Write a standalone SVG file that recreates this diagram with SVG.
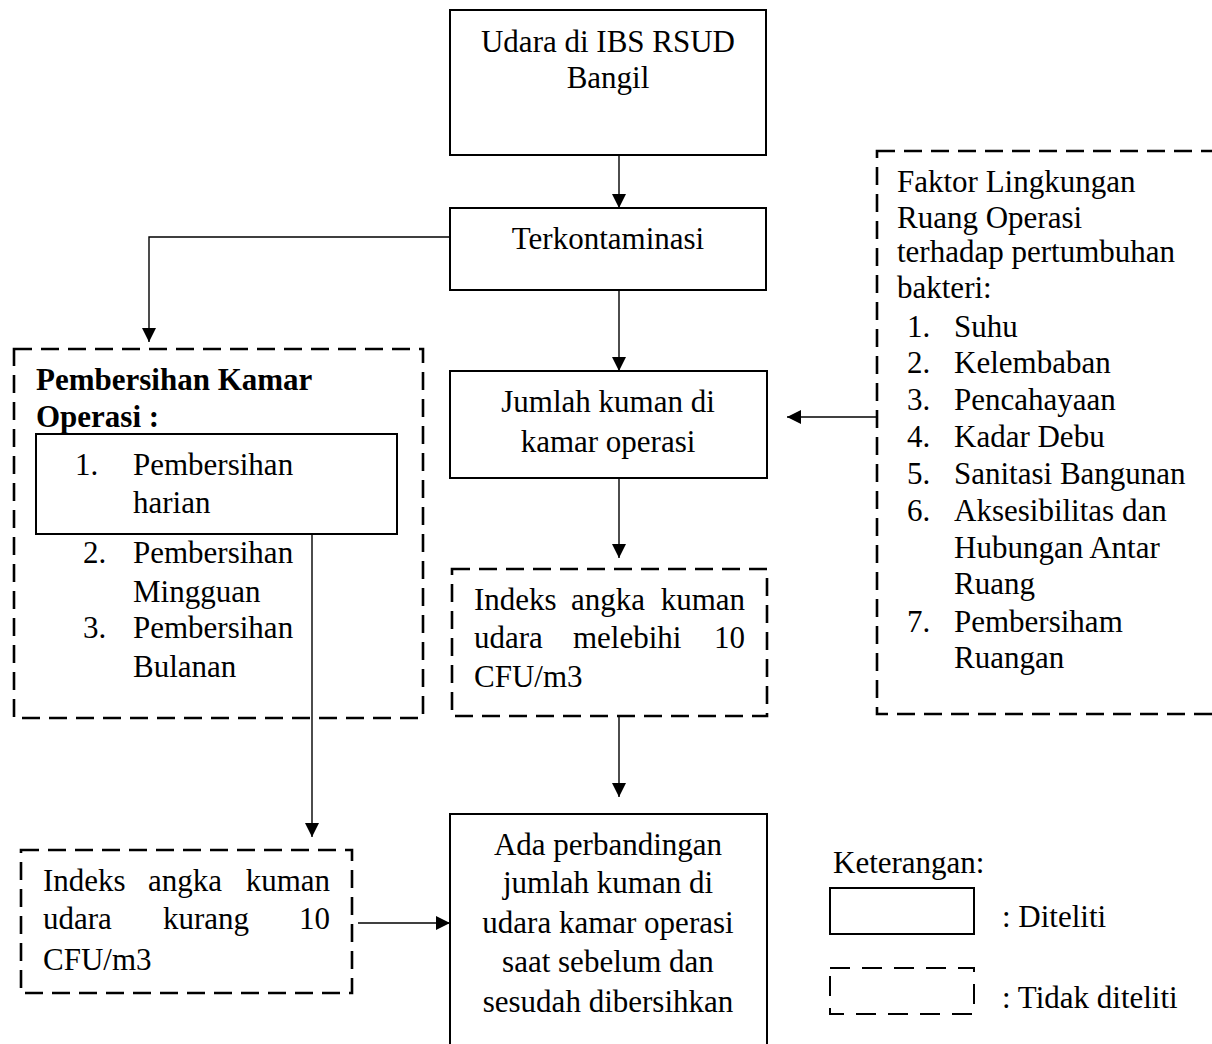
<svg xmlns="http://www.w3.org/2000/svg" width="1212" height="1044" viewBox="0 0 1212 1044">
<style>
text{font-family:"Liberation Serif","Times New Roman",serif;font-size:31px;fill:#000}
.b{font-weight:bold}
.c{text-anchor:middle}
.e{text-anchor:end}
.solid{fill:#fff;stroke:#000;stroke-width:2}
.dash{fill:none;stroke:#000;stroke-width:2.6;stroke-dasharray:18 9}
.conn path{fill:none;stroke:#000;stroke-width:1.4;marker-end:url(#ah)}
</style>
<defs>
<marker id="ah" markerWidth="14" markerHeight="14" refX="14" refY="7" orient="auto" markerUnits="userSpaceOnUse"><path d="M0,0 L14,7 L0,14 z" fill="#000"/></marker>
</defs>
<rect width="1212" height="1044" fill="#fff"/>

<g id="udara">
<rect class="solid" x="450" y="10" width="316" height="145"/>
<text class="c" x="608" y="52">Udara di IBS RSUD</text>
<text class="c" x="608" y="88">Bangil</text>
</g>

<g id="terkontaminasi">
<rect class="solid" x="450" y="208" width="316" height="82"/>
<text class="c" x="608" y="249">Terkontaminasi</text>
</g>

<g id="jumlah">
<rect class="solid" x="450" y="371" width="317" height="107"/>
<text class="c" x="608" y="412">Jumlah kuman di</text>
<text class="c" x="608" y="452">kamar operasi</text>
</g>

<g id="indeks-lebih">
<rect class="dash" x="452" y="569" width="315" height="147"/>
<text x="474" y="610">Indeks</text><text x="571" y="610">angka</text><text class="e" x="745" y="610">kuman</text>
<text x="474" y="648">udara</text><text x="573" y="648">melebihi</text><text class="e" x="745" y="648">10</text>
<text x="474" y="687">CFU/m3</text>
</g>

<g id="perbandingan">
<rect class="solid" x="450" y="814" width="317" height="240"/>
<text class="c" x="608" y="855">Ada perbandingan</text>
<text class="c" x="608" y="893">jumlah kuman di</text>
<text class="c" x="608" y="933">udara kamar operasi</text>
<text class="c" x="608" y="972">saat sebelum dan</text>
<text class="c" x="608" y="1012">sesudah dibersihkan</text>
</g>

<g id="pembersihan">
<rect class="dash" x="14" y="349" width="409" height="369"/>
<text class="b" x="36" y="390">Pembersihan Kamar</text>
<text class="b" x="36" y="427">Operasi :</text>
<g id="harian">
<rect class="solid" x="36" y="434" width="361" height="100"/>
<text x="75" y="475">1.</text><text x="133" y="475">Pembersihan</text>
<text x="133" y="513">harian</text>
</g>
<text x="83" y="563">2.</text><text x="133" y="563">Pembersihan</text>
<text x="133" y="602">Mingguan</text>
<text x="83" y="638">3.</text><text x="133" y="638">Pembersihan</text>
<text x="133" y="677">Bulanan</text>
</g>

<g id="indeks-kurang">
<rect class="dash" x="21" y="850" width="331" height="143"/>
<text x="43" y="891">Indeks</text><text x="148" y="891">angka</text><text class="e" x="330" y="891">kuman</text>
<text x="43" y="929">udara</text><text x="163" y="929">kurang</text><text class="e" x="330" y="929">10</text>
<text x="43" y="970">CFU/m3</text>
</g>

<g id="faktor">
<rect class="dash" x="877" y="151" width="345" height="563"/>
<text x="897" y="192">Faktor Lingkungan</text>
<text x="897" y="228">Ruang Operasi</text>
<text x="897" y="262">terhadap pertumbuhan</text>
<text x="897" y="298">bakteri:</text>
<text x="907" y="337">1.</text><text x="954" y="337">Suhu</text>
<text x="907" y="373">2.</text><text x="954" y="373">Kelembaban</text>
<text x="907" y="410">3.</text><text x="954" y="410">Pencahayaan</text>
<text x="907" y="447">4.</text><text x="954" y="447">Kadar Debu</text>
<text x="907" y="484">5.</text><text x="954" y="484">Sanitasi Bangunan</text>
<text x="907" y="521">6.</text><text x="954" y="521">Aksesibilitas dan</text>
<text x="954" y="558">Hubungan Antar</text>
<text x="954" y="594">Ruang</text>
<text x="907" y="632">7.</text><text x="954" y="632">Pembersiham</text>
<text x="954" y="668">Ruangan</text>
</g>

<g id="legend">
<text x="833" y="873">Keterangan:</text>
<rect class="solid" x="830" y="888" width="144" height="46"/>
<text x="1002" y="927">: Diteliti</text>
<rect x="830" y="968" width="144" height="46" fill="none" stroke="#000" stroke-width="2" stroke-dasharray="20 12"/>
<text x="1002" y="1008">: Tidak diteliti</text>
</g>

<g class="conn" id="connectors">
<path d="M619,155 V208"/>
<path d="M450,237 H149 V342"/>
<path d="M619,290 V371"/>
<path d="M876,417 H787"/>
<path d="M619,478 V558"/>
<path d="M619,716 V797"/>
<path d="M312,534 V837"/>
<path d="M358,923 H450"/>
</g>
</svg>
